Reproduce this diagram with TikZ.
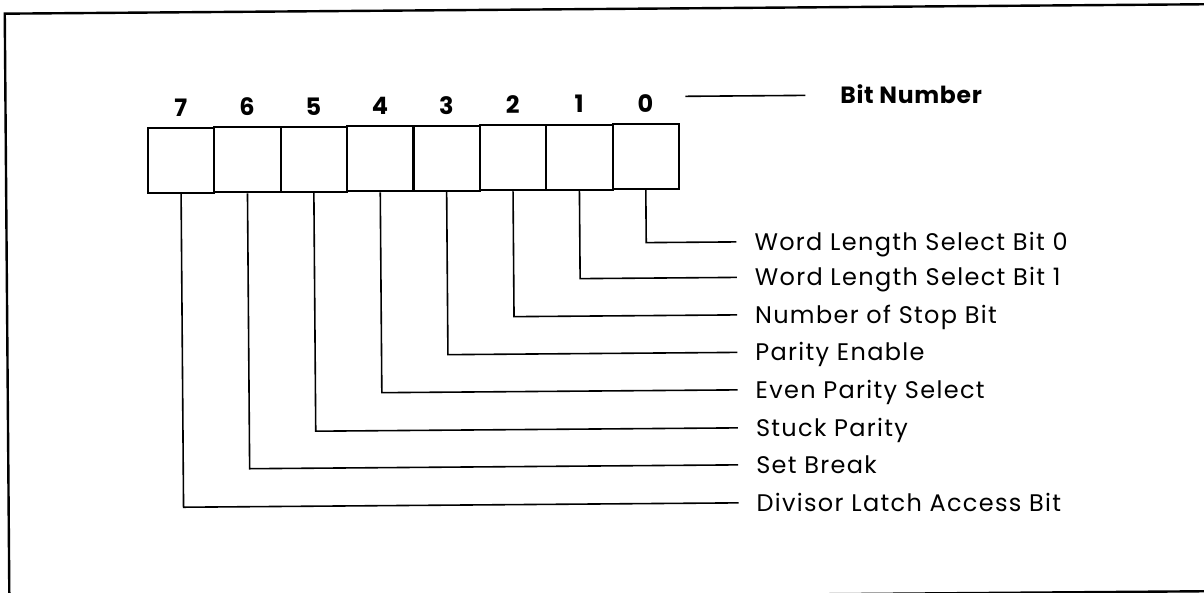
\documentclass[tikz,border=0pt]{standalone}
\usepackage{fontspec}
\setmainfont{Poppins}
\newfontfamily\lblfont[LetterSpace=5.5]{Poppins}
\newfontfamily\titlefont[LetterSpace=3]{Poppins}
\begin{document}
\begin{tikzpicture}[x=1pt,y=-1pt,
  cell/.style={draw,line width=2.2pt,minimum width=66.4pt,minimum height=65pt,inner sep=0pt},
  digit/.style={inner sep=0pt,font=\fontsize{24}{26}\selectfont\bfseries},
  lbl/.style={anchor=west,inner sep=0pt,outer xsep=18pt,text height=16.5pt,text depth=0pt,font=\lblfont\fontsize{24}{26}\selectfont},
  title/.style={anchor=west,inner sep=0pt,outer xsep=35pt,text height=16pt,text depth=0pt,font=\titlefont\fontsize{23.5}{26}\selectfont\bfseries},
  leader/.style={line width=1.6pt},
  frame/.style={line width=2.4pt}]
\useasboundingbox (0,0) rectangle (1204,593);
\clip (0,0) rectangle (1204,593);
\begin{scope}[rotate around={0.45:(600,300)}]
\draw[frame] (7,9) rectangle (1215,596);
% cells
\node[cell] (c7) at (182.2,157) {};
\node[cell] (c6) at (248.6,157) {};
\node[cell] (c5) at (315.0,157) {};
\node[cell] (c4) at (381.4,157) {};
\node[cell] (c3) at (447.8,157) {};
\node[cell] (c2) at (514.2,157) {};
\node[cell] (c1) at (580.6,157) {};
\node[cell] (c0) at (647.0,157) {};
% digits
\node[digit] (n7) at (182.2,104) {7};
\node[digit] (n6) at (248.6,104) {6};
\node[digit] (n5) at (315.0,104) {5};
\node[digit] (n4) at (381.4,104) {4};
\node[digit] (n3) at (447.8,104) {3};
\node[digit] (n2) at (514.2,104) {2};
\node[digit] (n1) at (580.6,104) {1};
\node[digit] (n0) at (647.0,104) {0};
% bit number
\coordinate (bs) at (687,97);
\node[title] (bn) at (807,97) {Bit Number};
\draw[leader] (bs) -- (bn.west);
% labels
\node[lbl] (l0) at (737,243) {Word Length Select Bit 0};
\node[lbl] (l1) at (737,278.5) {Word Length Select Bit 1};
\node[lbl] (l2) at (737,316) {Number of Stop Bit};
\node[lbl] (l3) at (737,353.5) {Parity Enable};
\node[lbl] (l4) at (737,391) {Even Parity Select};
\node[lbl] (l5) at (737,429) {Stuck Parity};
\node[lbl] (l6) at (737,466) {Set Break};
\node[lbl] (l7) at (737,504) {Divisor Latch Access Bit};
\foreach \i in {0,...,7} {\draw[leader] (c\i.south) |- (l\i.west);}
\end{scope}
\end{tikzpicture}
\end{document}
